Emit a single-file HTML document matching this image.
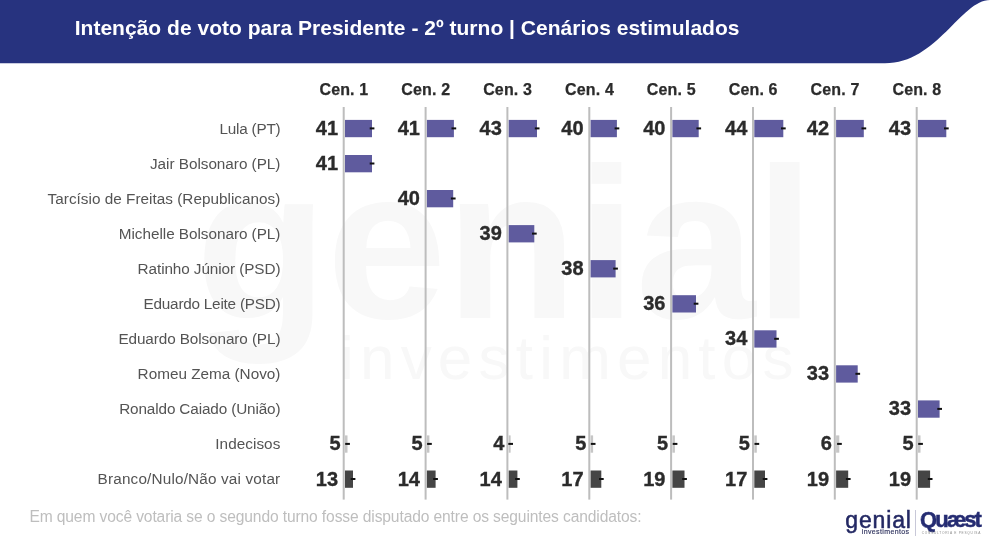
<!DOCTYPE html>
<html lang="pt-BR"><head><meta charset="utf-8"><title>Intenção de voto para Presidente - 2º turno</title>
<style>
html,body{margin:0;padding:0;background:#fff;}
body{width:1000px;height:554px;position:relative;overflow:hidden;font-family:"Liberation Sans",sans-serif;}
#bg{position:absolute;left:0;top:0;}
#tx{position:absolute;left:0;top:0;width:1000px;height:554px;will-change:transform;}
.title{position:absolute;left:74.7px;top:14.8px;color:#fff;font-weight:bold;font-size:21px;line-height:26px;letter-spacing:0.019px;white-space:nowrap;}
.h{position:absolute;top:79.5px;width:80px;text-align:center;font-weight:bold;font-size:16px;letter-spacing:0.15px;-webkit-text-stroke:0.25px #2b2b2b;line-height:20px;color:#2b2b2b;white-space:nowrap;}
.n{position:absolute;left:0;width:280.4px;text-align:right;font-size:15.3px;line-height:22px;color:#545454;white-space:nowrap;}
.v{position:absolute;width:61px;text-align:right;font-weight:bold;font-size:20px;letter-spacing:0.1px;-webkit-text-stroke:0.35px #2b2b2b;line-height:24px;color:#2b2b2b;white-space:nowrap;}
.foot{position:absolute;left:29.4px;top:506.4px;font-size:15.6px;line-height:22px;letter-spacing:-0.121px;color:#bebebe;white-space:nowrap;}
.wm1{position:absolute;left:195.5px;top:123.16px;font-size:216px;font-weight:bold;line-height:240px;color:#f8f8f8;letter-spacing:-1px;white-space:nowrap;}
.wm2{position:absolute;left:340px;top:322.52px;font-size:62px;line-height:70px;color:#f8f8f8;letter-spacing:6.2px;white-space:nowrap;}
.lg1{position:absolute;left:845.3px;top:507.33px;font-size:23px;line-height:26px;color:#232863;letter-spacing:0.85px;-webkit-text-stroke:0.5px #232863;white-space:nowrap;}
.lg1s{position:absolute;left:861.8px;top:528.17px;font-size:7px;line-height:8px;color:#2e325e;letter-spacing:0.37px;-webkit-text-stroke:0.15px #2e325e;white-space:nowrap;}
.lg2{position:absolute;left:920px;top:507.78px;font-size:22px;line-height:24px;font-weight:bold;color:#252c72;letter-spacing:-1.95px;-webkit-text-stroke:0.5px #252c72;white-space:nowrap;}
.lg2s{position:absolute;left:921.8px;top:531.09px;font-size:3.2px;line-height:5px;color:#8a8a8a;letter-spacing:0.75px;white-space:nowrap;}
</style></head><body>
<div class="wm1">genial</div>
<div class="wm2">investimentos</div>
<svg id="bg" width="1000" height="554" viewBox="0 0 1000 554">
<path d="M0 0 H990 C 961 0, 937 63.3, 885 63.3 H0 Z" fill="#27337f"/>
<rect x="342.7" y="107" width="2" height="392.6" fill="#bdbdbd"/><rect x="424.6" y="107" width="2" height="392.6" fill="#bdbdbd"/><rect x="506.4" y="107" width="2" height="392.6" fill="#bdbdbd"/><rect x="588.3" y="107" width="2" height="392.6" fill="#bdbdbd"/><rect x="670.1" y="107" width="2" height="392.6" fill="#bdbdbd"/><rect x="752.0" y="107" width="2" height="392.6" fill="#bdbdbd"/><rect x="833.8" y="107" width="2" height="392.6" fill="#bdbdbd"/><rect x="915.7" y="107" width="2" height="392.6" fill="#bdbdbd"/>
<rect x="345.0" y="119.9" width="27.0" height="17.3" fill="#5f5b9e"/><rect x="369.7" y="127.4" width="4.7" height="2" fill="#111"/><rect x="345.0" y="155.0" width="27.0" height="17.3" fill="#5f5b9e"/><rect x="369.7" y="162.5" width="4.7" height="2" fill="#111"/><rect x="345.0" y="435.4" width="2.5" height="17.3" fill="#c6c6c6"/><rect x="345.2" y="442.9" width="4.7" height="2" fill="#111"/><rect x="345.0" y="470.5" width="8.0" height="17.3" fill="#454545"/><rect x="350.7" y="478.0" width="4.7" height="2" fill="#111"/><rect x="426.9" y="119.9" width="27.0" height="17.3" fill="#5f5b9e"/><rect x="451.5" y="127.4" width="4.7" height="2" fill="#111"/><rect x="426.9" y="190.0" width="26.3" height="17.3" fill="#5f5b9e"/><rect x="450.9" y="197.5" width="4.7" height="2" fill="#111"/><rect x="426.9" y="435.4" width="2.5" height="17.3" fill="#c6c6c6"/><rect x="427.1" y="442.9" width="4.7" height="2" fill="#111"/><rect x="426.9" y="470.5" width="8.7" height="17.3" fill="#454545"/><rect x="433.2" y="478.0" width="4.7" height="2" fill="#111"/><rect x="508.7" y="119.9" width="28.3" height="17.3" fill="#5f5b9e"/><rect x="534.8" y="127.4" width="4.7" height="2" fill="#111"/><rect x="508.7" y="225.1" width="25.6" height="17.3" fill="#5f5b9e"/><rect x="532.0" y="232.6" width="4.7" height="2" fill="#111"/><rect x="508.7" y="435.4" width="1.9" height="17.3" fill="#c6c6c6"/><rect x="508.3" y="442.9" width="4.7" height="2" fill="#111"/><rect x="508.7" y="470.5" width="8.7" height="17.3" fill="#454545"/><rect x="515.1" y="478.0" width="4.7" height="2" fill="#111"/><rect x="590.6" y="119.9" width="26.3" height="17.3" fill="#5f5b9e"/><rect x="614.6" y="127.4" width="4.7" height="2" fill="#111"/><rect x="590.6" y="260.1" width="25.0" height="17.3" fill="#5f5b9e"/><rect x="613.2" y="267.6" width="4.7" height="2" fill="#111"/><rect x="590.6" y="435.4" width="2.5" height="17.3" fill="#c6c6c6"/><rect x="590.8" y="442.9" width="4.7" height="2" fill="#111"/><rect x="590.6" y="470.5" width="10.7" height="17.3" fill="#454545"/><rect x="599.0" y="478.0" width="4.7" height="2" fill="#111"/><rect x="672.4" y="119.9" width="26.3" height="17.3" fill="#5f5b9e"/><rect x="696.4" y="127.4" width="4.7" height="2" fill="#111"/><rect x="672.4" y="295.2" width="23.6" height="17.3" fill="#5f5b9e"/><rect x="693.7" y="302.7" width="4.7" height="2" fill="#111"/><rect x="672.4" y="435.4" width="2.5" height="17.3" fill="#c6c6c6"/><rect x="672.7" y="442.9" width="4.7" height="2" fill="#111"/><rect x="672.4" y="470.5" width="12.1" height="17.3" fill="#454545"/><rect x="682.2" y="478.0" width="4.7" height="2" fill="#111"/><rect x="754.3" y="119.9" width="29.0" height="17.3" fill="#5f5b9e"/><rect x="781.0" y="127.4" width="4.7" height="2" fill="#111"/><rect x="754.3" y="330.3" width="22.2" height="17.3" fill="#5f5b9e"/><rect x="774.2" y="337.8" width="4.7" height="2" fill="#111"/><rect x="754.3" y="435.4" width="2.5" height="17.3" fill="#c6c6c6"/><rect x="754.5" y="442.9" width="4.7" height="2" fill="#111"/><rect x="754.3" y="470.5" width="10.7" height="17.3" fill="#454545"/><rect x="762.7" y="478.0" width="4.7" height="2" fill="#111"/><rect x="836.1" y="119.9" width="27.7" height="17.3" fill="#5f5b9e"/><rect x="861.5" y="127.4" width="4.7" height="2" fill="#111"/><rect x="836.1" y="365.3" width="21.6" height="17.3" fill="#5f5b9e"/><rect x="855.4" y="372.8" width="4.7" height="2" fill="#111"/><rect x="836.1" y="435.4" width="3.2" height="17.3" fill="#c6c6c6"/><rect x="837.1" y="442.9" width="4.7" height="2" fill="#111"/><rect x="836.1" y="470.5" width="12.1" height="17.3" fill="#454545"/><rect x="845.9" y="478.0" width="4.7" height="2" fill="#111"/><rect x="918.0" y="119.9" width="28.3" height="17.3" fill="#5f5b9e"/><rect x="944.0" y="127.4" width="4.7" height="2" fill="#111"/><rect x="918.0" y="400.4" width="21.6" height="17.3" fill="#5f5b9e"/><rect x="937.3" y="407.9" width="4.7" height="2" fill="#111"/><rect x="918.0" y="435.4" width="2.5" height="17.3" fill="#c6c6c6"/><rect x="918.2" y="442.9" width="4.7" height="2" fill="#111"/><rect x="918.0" y="470.5" width="12.1" height="17.3" fill="#454545"/><rect x="927.8" y="478.0" width="4.7" height="2" fill="#111"/>
<rect x="915" y="510" width="1" height="26" fill="#c8c8d8"/>
</svg>
<div id="tx"><div class="title">Intenção de voto para Presidente - 2º turno | Cenários estimulados</div>
<div class="h" style="left:303.9px">Cen. 1</div><div class="h" style="left:385.8px">Cen. 2</div><div class="h" style="left:467.6px">Cen. 3</div><div class="h" style="left:549.5px">Cen. 4</div><div class="h" style="left:631.3px">Cen. 5</div><div class="h" style="left:713.2px">Cen. 6</div><div class="h" style="left:795.0px">Cen. 7</div><div class="h" style="left:876.9px">Cen. 8</div>
<div class="n" style="top:117.8px;letter-spacing:-0.223px">Lula (PT)</div><div class="n" style="top:152.9px;letter-spacing:-0.028px">Jair Bolsonaro (PL)</div><div class="n" style="top:187.9px;letter-spacing:0.02px">Tarcísio de Freitas (Republicanos)</div><div class="n" style="top:223.0px;letter-spacing:-0.034px">Michelle Bolsonaro (PL)</div><div class="n" style="top:258.0px;letter-spacing:-0.087px">Ratinho Júnior (PSD)</div><div class="n" style="top:293.1px;letter-spacing:-0.229px">Eduardo Leite (PSD)</div><div class="n" style="top:328.2px;letter-spacing:-0.097px">Eduardo Bolsonaro (PL)</div><div class="n" style="top:363.2px;letter-spacing:-0.001px">Romeu Zema (Novo)</div><div class="n" style="top:398.3px;letter-spacing:-0.133px">Ronaldo Caiado (União)</div><div class="n" style="top:433.3px;letter-spacing:0.053px">Indecisos</div><div class="n" style="top:468.4px;letter-spacing:0.17px">Branco/Nulo/Não vai votar</div>
<div class="v" style="left:277.2px;top:115.9px">41</div><div class="v" style="left:277.2px;top:151.0px">41</div><div class="v" style="left:279.8px;top:431.4px">5</div><div class="v" style="left:277.2px;top:466.5px">13</div><div class="v" style="left:359.1px;top:115.9px">41</div><div class="v" style="left:359.1px;top:186.0px">40</div><div class="v" style="left:361.7px;top:431.4px">5</div><div class="v" style="left:359.1px;top:466.5px">14</div><div class="v" style="left:440.9px;top:115.9px">43</div><div class="v" style="left:440.9px;top:221.1px">39</div><div class="v" style="left:443.5px;top:431.4px">4</div><div class="v" style="left:440.9px;top:466.5px">14</div><div class="v" style="left:522.8px;top:115.9px">40</div><div class="v" style="left:522.8px;top:256.1px">38</div><div class="v" style="left:525.4px;top:431.4px">5</div><div class="v" style="left:522.8px;top:466.5px">17</div><div class="v" style="left:604.6px;top:115.9px">40</div><div class="v" style="left:604.6px;top:291.2px">36</div><div class="v" style="left:607.2px;top:431.4px">5</div><div class="v" style="left:604.6px;top:466.5px">19</div><div class="v" style="left:686.5px;top:115.9px">44</div><div class="v" style="left:686.5px;top:326.3px">34</div><div class="v" style="left:689.1px;top:431.4px">5</div><div class="v" style="left:686.5px;top:466.5px">17</div><div class="v" style="left:768.3px;top:115.9px">42</div><div class="v" style="left:768.3px;top:361.3px">33</div><div class="v" style="left:770.9px;top:431.4px">6</div><div class="v" style="left:768.3px;top:466.5px">19</div><div class="v" style="left:850.2px;top:115.9px">43</div><div class="v" style="left:850.2px;top:396.4px">33</div><div class="v" style="left:852.8px;top:431.4px">5</div><div class="v" style="left:850.2px;top:466.5px">19</div>
<div class="foot">Em quem você votaria se o segundo turno fosse disputado entre os seguintes candidatos:</div>
<div class="lg1">genial</div><div class="lg1s">investimentos</div>
<div class="lg2">Quæst</div><div class="lg2s">CONSULTORIA E PESQUISA</div></div>
</body></html>
